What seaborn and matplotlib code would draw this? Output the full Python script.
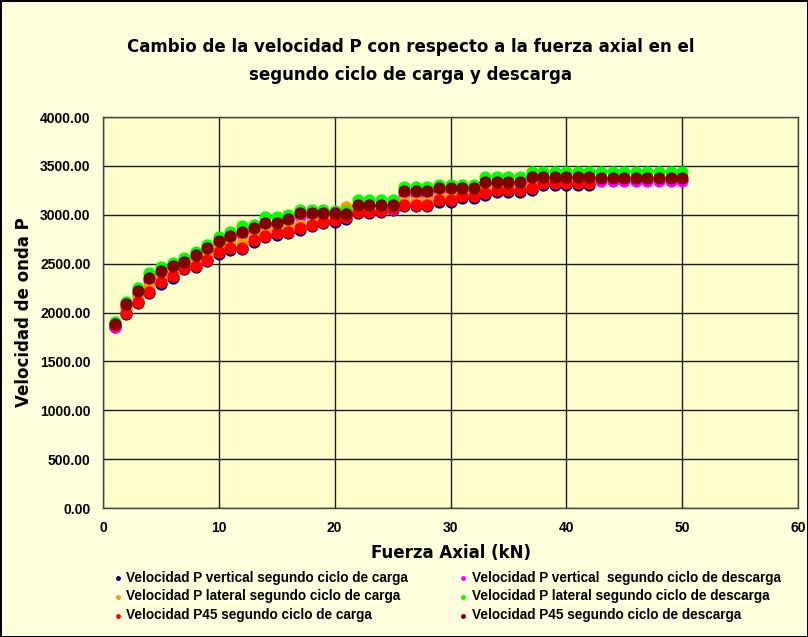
import pandas as pd
import matplotlib
matplotlib.use("Agg")
import matplotlib.pyplot as plt
import seaborn as sns

# -----------------------------------
# Data
# -----------------------------------
x_carga = list(range(1, 43))
x_descarga = list(range(1, 51))

vertical_carga = [1855, 1980, 2095, 2195, 2295, 2355, 2445, 2465, 2525, 2600,
                  2640, 2645, 2725, 2770, 2795, 2810, 2845, 2880, 2915, 2930,
                  2960, 3015, 3015, 3025, 3050, 3085, 3085, 3085, 3135, 3135,
                  3175, 3175, 3205, 3235, 3235, 3235, 3255, 3305, 3305, 3305,
                  3305, 3305]
vertical_descarga = [1850, 2060, 2190, 2325, 2395, 2450, 2490, 2565, 2630, 2705,
                     2760, 2800, 2835, 2895, 2895, 2930, 2990, 2990, 2990, 2985,
                     2980, 3075, 3075, 3065, 3060, 3215, 3215, 3215, 3245, 3245,
                     3245, 3245, 3310, 3310, 3310, 3310, 3355, 3355, 3355, 3355,
                     3355, 3355, 3345, 3345, 3345, 3345, 3345, 3345, 3345, 3345]
lateral_carga = [1890, 2040, 2160, 2265, 2350, 2410, 2490, 2520, 2590, 2660,
                 2700, 2710, 2780, 2830, 2850, 2875, 2900, 2930, 2960, 2980,
                 3080, 3060, 3060, 3070, 3080, 3140, 3140, 3140, 3190, 3190,
                 3220, 3220, 3260, 3285, 3285, 3285, 3290, 3345, 3345, 3345,
                 3345, 3345]
lateral_descarga = [1905, 2110, 2250, 2400, 2470, 2510, 2560, 2620, 2690, 2770,
                    2820, 2880, 2900, 2975, 2975, 3000, 3045, 3045, 3045, 3040,
                    3040, 3150, 3150, 3150, 3150, 3280, 3280, 3280, 3300, 3300,
                    3300, 3300, 3390, 3390, 3390, 3390, 3440, 3440, 3440, 3440,
                    3440, 3440, 3440, 3440, 3440, 3440, 3440, 3440, 3440, 3440]
p45_carga = [1870, 1995, 2110, 2210, 2315, 2370, 2460, 2480, 2540, 2615,
             2655, 2660, 2740, 2785, 2810, 2825, 2860, 2895, 2930, 2945,
             2975, 3030, 3030, 3040, 3065, 3100, 3100, 3100, 3150, 3150,
             3190, 3190, 3220, 3250, 3250, 3250, 3270, 3320, 3320, 3320,
             3320, 3320]
p45_descarga = [1880, 2085, 2215, 2350, 2420, 2475, 2515, 2590, 2655, 2730,
                2785, 2825, 2860, 2920, 2920, 2955, 3015, 3015, 3015, 3015,
                3010, 3100, 3100, 3100, 3100, 3240, 3240, 3240, 3270, 3270,
                3270, 3270, 3335, 3335, 3335, 3335, 3385, 3385, 3385, 3385,
                3385, 3385, 3375, 3375, 3375, 3375, 3375, 3375, 3375, 3375]

labels = [
    "Velocidad P vertical segundo ciclo de carga",
    "Velocidad P vertical  segundo ciclo de descarga",
    "Velocidad P lateral segundo ciclo de carga",
    "Velocidad P lateral segundo ciclo de descarga",
    "Velocidad P45 segundo ciclo de carga",
    "Velocidad P45 segundo ciclo de descarga",
]
colors = ["#000080", "#FF00FF", "#FF9900", "#00FF00", "#FF0000", "#800000"]
series = [
    (x_carga, vertical_carga),
    (x_descarga, vertical_descarga),
    (x_carga, lateral_carga),
    (x_descarga, lateral_descarga),
    (x_carga, p45_carga),
    (x_descarga, p45_descarga),
]

# -----------------------------------
# Figure
# -----------------------------------
sns.set_style("white")
plt.rcParams["text.color"] = "black"
plt.rcParams["axes.labelcolor"] = "black"
plt.rcParams["xtick.color"] = "black"
plt.rcParams["ytick.color"] = "black"
narrow = ["Liberation Sans", "DejaVu Sans"]

fig = plt.figure(figsize=(8.08, 6.37), dpi=100)
fig.patch.set_facecolor("#FFFFDD")
fig.patch.set_edgecolor("black")
fig.patch.set_linewidth(2)
ax = fig.add_axes([0.1275, 0.2025, 0.8601, 0.6138])
ax.set_facecolor("#FFFFCC")

for (xs, ys), lab, col in zip(series, labels, colors):
    df = pd.DataFrame({"x": xs, "y": ys})
    sns.scatterplot(data=df, x="x", y="y", ax=ax, color=col, s=78,
                    linewidth=0, label=lab, zorder=3)

ax.set_xlim(0, 60)
ax.set_ylim(0, 4000)
ax.set_xticks(range(0, 61, 10))
ax.set_yticks(range(0, 4001, 500))
ax.set_yticklabels([f"{v:.2f}" for v in range(0, 4001, 500)])
ax.grid(True, color="#1a1a1a", linewidth=1)
ax.set_axisbelow(True)
for sp in ax.spines.values():
    sp.set_color("#444444")
    sp.set_linewidth(1)
ax.tick_params(axis="both", direction="out", length=4, color="black",
               labelsize=10, pad=5)
for t in ax.get_xticklabels() + ax.get_yticklabels():
    t.set_family(narrow)
    t.set_fontweight("bold")

ax.set_xlabel("Fuerza Axial (kN)", fontsize=12, fontweight="heavy", labelpad=7)
ax.set_ylabel("Velocidad de onda P", fontsize=12, fontweight="heavy", labelpad=5)

fig.text(0.508, 0.926, "Cambio de la velocidad P con respecto a la fuerza axial en el",
         ha="center", va="center", fontsize=12, fontweight="heavy")
fig.text(0.508, 0.882, "segundo ciclo de carga y descarga",
         ha="center", va="center", fontsize=12, fontweight="heavy")

# legend: two columns, read row-wise like the original
handles, labs = ax.get_legend_handles_labels()
order = [0, 2, 4, 1, 3, 5]
leg = fig.legend([handles[i] for i in order], [labs[i] for i in order],
                 loc="lower left", bbox_to_anchor=(0.122, 0.004), ncol=2,
                 frameon=False, handletextpad=0.1, handlelength=1.0,
                 columnspacing=3.6, labelspacing=0.35, markerscale=0.4,
                 prop={"family": narrow, "weight": "bold", "size": 9.8})
ax.get_legend().remove()

plt.savefig("out.png", dpi=100, facecolor=fig.get_facecolor(),
            edgecolor=fig.get_edgecolor())
